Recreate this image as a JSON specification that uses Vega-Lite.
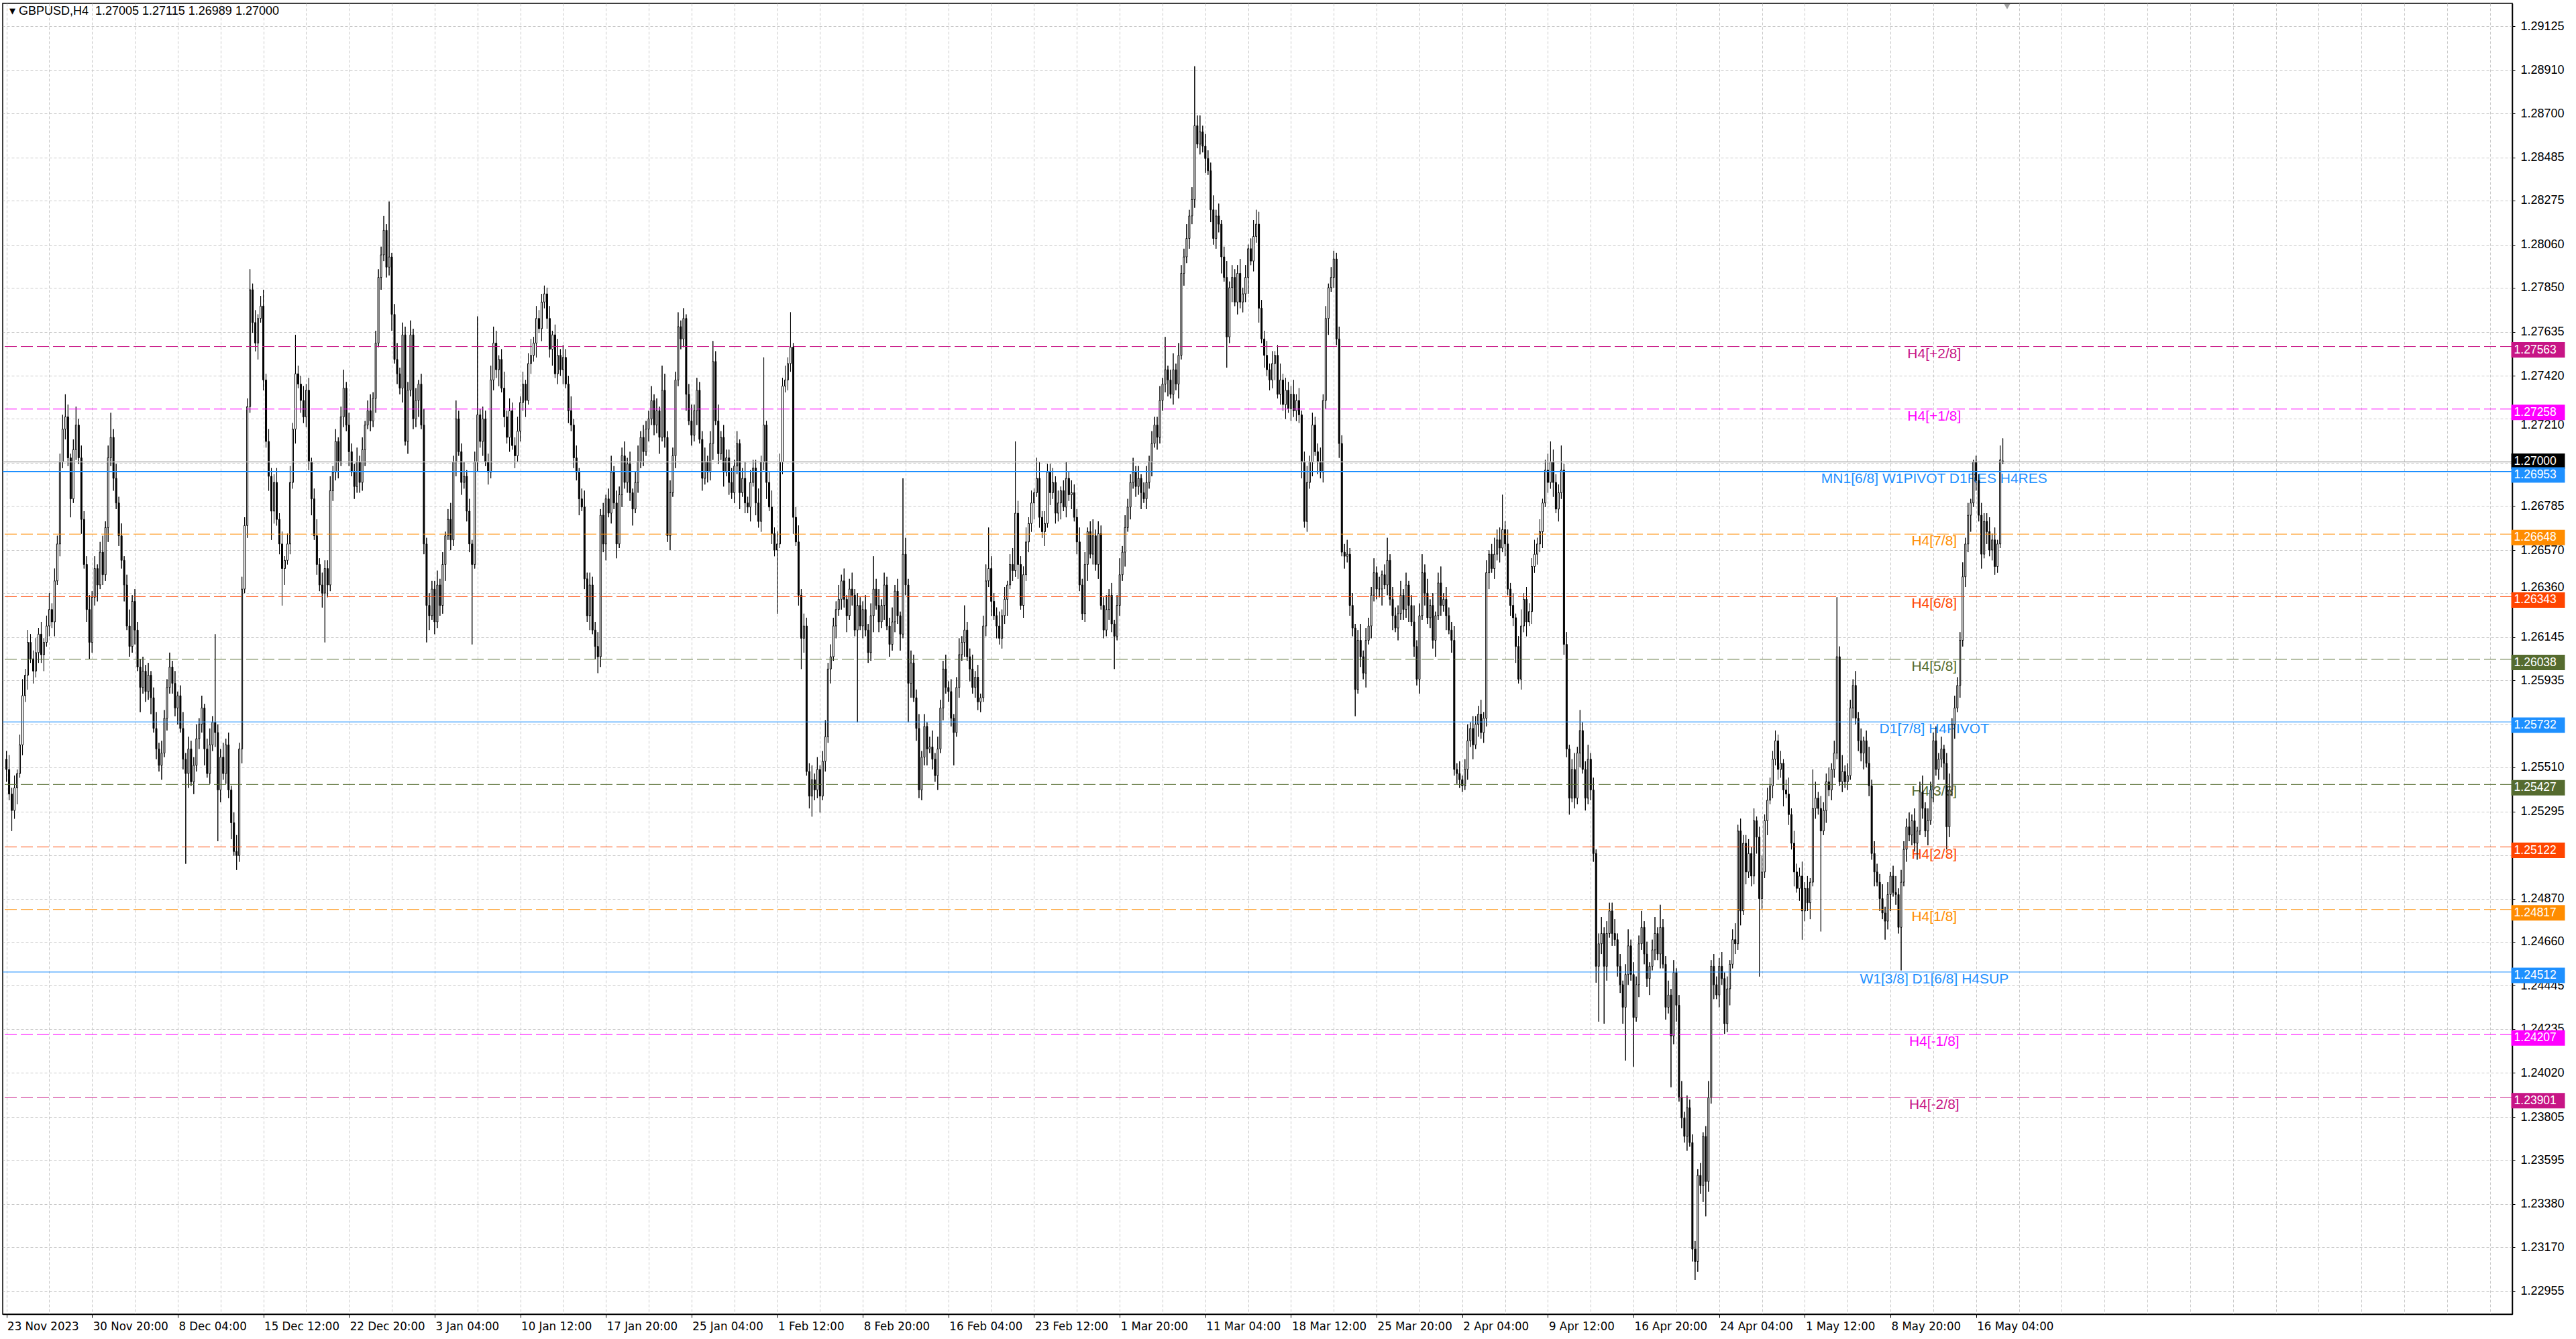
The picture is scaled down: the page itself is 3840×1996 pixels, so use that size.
{
"$schema":"https://vega.github.io/schema/vega-lite/v6.json",
"width":3741,"height":1954,
"autosize":{"type":"none"},
"padding":{"left":4,"top":5,"right":95,"bottom":37},
"background":"#FFFFFF",
"view":{"stroke":"#000000","strokeWidth":1.5},
"config":{"font":"Liberation Sans"},
"datasets":{
"caption":[{"caption":"▾ GBPUSD,H4\u00a0\u00a01.27005 1.27115 1.26989 1.27000"}],
"levels":[
{"v":1.27563,"label":"H4[+2/8]","kind":"pm2"},
{"v":1.27258,"label":"H4[+1/8]","kind":"pm1"},
{"v":1.27000,"label":"","kind":"bid"},
{"v":1.26953,"label":"MN1[6/8] W1PIVOT D1RES H4RES","kind":"blue"},
{"v":1.26648,"label":"H4[7/8]","kind":"o71"},
{"v":1.26343,"label":"H4[6/8]","kind":"o62"},
{"v":1.26038,"label":"H4[5/8]","kind":"g53"},
{"v":1.25732,"label":"D1[7/8] H4PIVOT","kind":"blue"},
{"v":1.25427,"label":"H4[3/8]","kind":"g53"},
{"v":1.25122,"label":"H4[2/8]","kind":"o62"},
{"v":1.24817,"label":"H4[1/8]","kind":"o71"},
{"v":1.24512,"label":"W1[3/8] D1[6/8] H4SUP","kind":"blue"},
{"v":1.24207,"label":"H4[-1/8]","kind":"pm1"},
{"v":1.23901,"label":"H4[-2/8]","kind":"pm2"}
],
"bars":[
{"i":0,"o":1.2555,"h":1.2559,"l":1.2544,"c":1.2550},
{"i":1,"o":1.2550,"h":1.2557,"l":1.2535,"c":1.2538},
{"i":2,"o":1.2538,"h":1.2541,"l":1.2520,"c":1.2530},
{"i":3,"o":1.2530,"h":1.2547,"l":1.2526,"c":1.2541},
{"i":4,"o":1.2541,"h":1.2550,"l":1.2533,"c":1.2548},
{"i":5,"o":1.2548,"h":1.2567,"l":1.2546,"c":1.2562},
{"i":6,"o":1.2562,"h":1.2594,"l":1.2557,"c":1.2586},
{"i":7,"o":1.2586,"h":1.2599,"l":1.2583,"c":1.2596},
{"i":8,"o":1.2596,"h":1.2618,"l":1.2589,"c":1.2612},
{"i":9,"o":1.2612,"h":1.2616,"l":1.2602,"c":1.2604},
{"i":10,"o":1.2604,"h":1.2608,"l":1.2592,"c":1.2598},
{"i":11,"o":1.2598,"h":1.2614,"l":1.2595,"c":1.2607},
{"i":12,"o":1.2607,"h":1.2619,"l":1.2602,"c":1.2616},
{"i":13,"o":1.2616,"h":1.2622,"l":1.2602,"c":1.2606},
{"i":14,"o":1.2606,"h":1.2614,"l":1.2598,"c":1.2612},
{"i":15,"o":1.2612,"h":1.2625,"l":1.2610,"c":1.2620},
{"i":16,"o":1.2620,"h":1.2636,"l":1.2615,"c":1.2628},
{"i":17,"o":1.2628,"h":1.2631,"l":1.2619,"c":1.2622},
{"i":18,"o":1.2622,"h":1.2648,"l":1.2615,"c":1.2642},
{"i":19,"o":1.2642,"h":1.2664,"l":1.2640,"c":1.2660},
{"i":20,"o":1.2660,"h":1.2704,"l":1.2654,"c":1.2700},
{"i":21,"o":1.2700,"h":1.2723,"l":1.2697,"c":1.2716},
{"i":22,"o":1.2716,"h":1.2733,"l":1.2711,"c":1.2722},
{"i":23,"o":1.2722,"h":1.2728,"l":1.2698,"c":1.2702},
{"i":24,"o":1.2702,"h":1.2704,"l":1.2673,"c":1.2682},
{"i":25,"o":1.2682,"h":1.2711,"l":1.2680,"c":1.2706},
{"i":26,"o":1.2706,"h":1.2727,"l":1.2701,"c":1.2718},
{"i":27,"o":1.2718,"h":1.2721,"l":1.2699,"c":1.2702},
{"i":28,"o":1.2702,"h":1.2708,"l":1.2665,"c":1.2672},
{"i":29,"o":1.2672,"h":1.2676,"l":1.2648,"c":1.2650},
{"i":30,"o":1.2650,"h":1.2654,"l":1.2622,"c":1.2628},
{"i":31,"o":1.2628,"h":1.2635,"l":1.2604,"c":1.2612},
{"i":32,"o":1.2612,"h":1.2637,"l":1.2607,"c":1.2634},
{"i":33,"o":1.2634,"h":1.2654,"l":1.2630,"c":1.2648},
{"i":34,"o":1.2648,"h":1.2650,"l":1.2632,"c":1.2640},
{"i":35,"o":1.2640,"h":1.2661,"l":1.2638,"c":1.2656},
{"i":36,"o":1.2656,"h":1.2664,"l":1.2640,"c":1.2645},
{"i":37,"o":1.2645,"h":1.2671,"l":1.2642,"c":1.2668},
{"i":38,"o":1.2668,"h":1.2708,"l":1.2661,"c":1.2702},
{"i":39,"o":1.2702,"h":1.2724,"l":1.2698,"c":1.2712},
{"i":40,"o":1.2712,"h":1.2716,"l":1.2686,"c":1.2692},
{"i":41,"o":1.2692,"h":1.2699,"l":1.2677,"c":1.2680},
{"i":42,"o":1.2680,"h":1.2683,"l":1.2659,"c":1.2664},
{"i":43,"o":1.2664,"h":1.2670,"l":1.2648,"c":1.2652},
{"i":44,"o":1.2652,"h":1.2654,"l":1.2632,"c":1.2640},
{"i":45,"o":1.2640,"h":1.2645,"l":1.2618,"c":1.2620},
{"i":46,"o":1.2620,"h":1.2628,"l":1.2605,"c":1.2610},
{"i":47,"o":1.2610,"h":1.2635,"l":1.2607,"c":1.2632},
{"i":48,"o":1.2632,"h":1.2638,"l":1.2611,"c":1.2618},
{"i":49,"o":1.2618,"h":1.2622,"l":1.2598,"c":1.2600},
{"i":50,"o":1.2600,"h":1.2604,"l":1.2578,"c":1.2590},
{"i":51,"o":1.2590,"h":1.2605,"l":1.2587,"c":1.2598},
{"i":52,"o":1.2598,"h":1.2601,"l":1.2583,"c":1.2588},
{"i":53,"o":1.2588,"h":1.2602,"l":1.2584,"c":1.2596},
{"i":54,"o":1.2596,"h":1.2598,"l":1.2577,"c":1.2585},
{"i":55,"o":1.2585,"h":1.2590,"l":1.2568,"c":1.2570},
{"i":56,"o":1.2570,"h":1.2578,"l":1.2555,"c":1.2560},
{"i":57,"o":1.2560,"h":1.2563,"l":1.2549,"c":1.2552},
{"i":58,"o":1.2552,"h":1.2564,"l":1.2545,"c":1.2558},
{"i":59,"o":1.2558,"h":1.2579,"l":1.2556,"c":1.2575},
{"i":60,"o":1.2575,"h":1.2594,"l":1.2569,"c":1.2590},
{"i":61,"o":1.2590,"h":1.2607,"l":1.2587,"c":1.2600},
{"i":62,"o":1.2600,"h":1.2603,"l":1.2587,"c":1.2592},
{"i":63,"o":1.2592,"h":1.2598,"l":1.2576,"c":1.2580},
{"i":64,"o":1.2580,"h":1.2588,"l":1.2572,"c":1.2586},
{"i":65,"o":1.2586,"h":1.2591,"l":1.2568,"c":1.2570},
{"i":66,"o":1.2570,"h":1.2578,"l":1.2550,"c":1.2555},
{"i":67,"o":1.2555,"h":1.2558,"l":1.2504,"c":1.2548},
{"i":68,"o":1.2548,"h":1.2566,"l":1.2541,"c":1.2560},
{"i":69,"o":1.2560,"h":1.2564,"l":1.2542,"c":1.2544},
{"i":70,"o":1.2544,"h":1.2556,"l":1.2538,"c":1.2552},
{"i":71,"o":1.2552,"h":1.2572,"l":1.2549,"c":1.2565},
{"i":72,"o":1.2565,"h":1.2575,"l":1.2560,"c":1.2572},
{"i":73,"o":1.2572,"h":1.2586,"l":1.2568,"c":1.2580},
{"i":74,"o":1.2580,"h":1.2582,"l":1.2552,"c":1.2560},
{"i":75,"o":1.2560,"h":1.2565,"l":1.2546,"c":1.2548},
{"i":76,"o":1.2548,"h":1.2570,"l":1.2543,"c":1.2562},
{"i":77,"o":1.2562,"h":1.2576,"l":1.2559,"c":1.2573},
{"i":78,"o":1.2573,"h":1.2616,"l":1.2561,"c":1.2568},
{"i":79,"o":1.2568,"h":1.2572,"l":1.2515,"c":1.2540},
{"i":80,"o":1.2540,"h":1.2560,"l":1.2534,"c":1.2556},
{"i":81,"o":1.2556,"h":1.2563,"l":1.2545,"c":1.2548},
{"i":82,"o":1.2548,"h":1.2565,"l":1.2543,"c":1.2562},
{"i":83,"o":1.2562,"h":1.2568,"l":1.2536,"c":1.2540},
{"i":84,"o":1.2540,"h":1.2542,"l":1.2516,"c":1.2524},
{"i":85,"o":1.2524,"h":1.2529,"l":1.2508,"c":1.2510},
{"i":86,"o":1.2510,"h":1.2518,"l":1.2501,"c":1.2508},
{"i":87,"o":1.2508,"h":1.2563,"l":1.2505,"c":1.2560},
{"i":88,"o":1.2560,"h":1.2644,"l":1.2553,"c":1.2638},
{"i":89,"o":1.2638,"h":1.2673,"l":1.2636,"c":1.2669},
{"i":90,"o":1.2669,"h":1.2731,"l":1.2663,"c":1.2727},
{"i":91,"o":1.2727,"h":1.2794,"l":1.2724,"c":1.2784},
{"i":92,"o":1.2784,"h":1.2787,"l":1.2763,"c":1.2768},
{"i":93,"o":1.2768,"h":1.2774,"l":1.2754,"c":1.2758},
{"i":94,"o":1.2758,"h":1.2772,"l":1.2750,"c":1.2770},
{"i":95,"o":1.2770,"h":1.2781,"l":1.2768,"c":1.2776},
{"i":96,"o":1.2776,"h":1.2784,"l":1.2735,"c":1.2740},
{"i":97,"o":1.2740,"h":1.2743,"l":1.2707,"c":1.2710},
{"i":98,"o":1.2710,"h":1.2716,"l":1.2686,"c":1.2693},
{"i":99,"o":1.2693,"h":1.2697,"l":1.2662,"c":1.2676},
{"i":100,"o":1.2676,"h":1.2694,"l":1.2670,"c":1.2690},
{"i":101,"o":1.2690,"h":1.2697,"l":1.2669,"c":1.2672},
{"i":102,"o":1.2672,"h":1.2675,"l":1.2655,"c":1.2660},
{"i":103,"o":1.2660,"h":1.2666,"l":1.2630,"c":1.2648},
{"i":104,"o":1.2648,"h":1.2654,"l":1.2640,"c":1.2652},
{"i":105,"o":1.2652,"h":1.2665,"l":1.2650,"c":1.2660},
{"i":106,"o":1.2660,"h":1.2698,"l":1.2655,"c":1.2690},
{"i":107,"o":1.2690,"h":1.2719,"l":1.2687,"c":1.2716},
{"i":108,"o":1.2716,"h":1.2762,"l":1.2709,"c":1.2743},
{"i":109,"o":1.2743,"h":1.2747,"l":1.2736,"c":1.2738},
{"i":110,"o":1.2738,"h":1.2742,"l":1.2724,"c":1.2730},
{"i":111,"o":1.2730,"h":1.2737,"l":1.2719,"c":1.2722},
{"i":112,"o":1.2722,"h":1.2738,"l":1.2717,"c":1.2735},
{"i":113,"o":1.2735,"h":1.2741,"l":1.2696,"c":1.2700},
{"i":114,"o":1.2700,"h":1.2702,"l":1.2674,"c":1.2682},
{"i":115,"o":1.2682,"h":1.2687,"l":1.2662,"c":1.2664},
{"i":116,"o":1.2664,"h":1.2672,"l":1.2645,"c":1.2650},
{"i":117,"o":1.2650,"h":1.2653,"l":1.2637,"c":1.2640},
{"i":118,"o":1.2640,"h":1.2646,"l":1.2629,"c":1.2636},
{"i":119,"o":1.2636,"h":1.2652,"l":1.2612,"c":1.2648},
{"i":120,"o":1.2648,"h":1.2652,"l":1.2634,"c":1.2640},
{"i":121,"o":1.2640,"h":1.2693,"l":1.2637,"c":1.2686},
{"i":122,"o":1.2686,"h":1.2698,"l":1.2681,"c":1.2695},
{"i":123,"o":1.2695,"h":1.2716,"l":1.2691,"c":1.2710},
{"i":124,"o":1.2710,"h":1.2712,"l":1.2692,"c":1.2700},
{"i":125,"o":1.2700,"h":1.2727,"l":1.2698,"c":1.2722},
{"i":126,"o":1.2722,"h":1.2745,"l":1.2717,"c":1.2736},
{"i":127,"o":1.2736,"h":1.2739,"l":1.2715,"c":1.2718},
{"i":128,"o":1.2718,"h":1.2724,"l":1.2698,"c":1.2705},
{"i":129,"o":1.2705,"h":1.2709,"l":1.2693,"c":1.2695},
{"i":130,"o":1.2695,"h":1.2699,"l":1.2682,"c":1.2688},
{"i":131,"o":1.2688,"h":1.2707,"l":1.2685,"c":1.2700},
{"i":132,"o":1.2700,"h":1.2703,"l":1.2685,"c":1.2690},
{"i":133,"o":1.2690,"h":1.2712,"l":1.2686,"c":1.2706},
{"i":134,"o":1.2706,"h":1.2720,"l":1.2698,"c":1.2718},
{"i":135,"o":1.2718,"h":1.2730,"l":1.2716,"c":1.2725},
{"i":136,"o":1.2725,"h":1.2733,"l":1.2715,"c":1.2720},
{"i":137,"o":1.2720,"h":1.2734,"l":1.2717,"c":1.2731},
{"i":138,"o":1.2731,"h":1.2764,"l":1.2724,"c":1.2758},
{"i":139,"o":1.2758,"h":1.2794,"l":1.2756,"c":1.2790},
{"i":140,"o":1.2790,"h":1.2805,"l":1.2784,"c":1.2801},
{"i":141,"o":1.2801,"h":1.2820,"l":1.2798,"c":1.2813},
{"i":142,"o":1.2813,"h":1.2816,"l":1.2790,"c":1.2795},
{"i":143,"o":1.2795,"h":1.2827,"l":1.2791,"c":1.2800},
{"i":144,"o":1.2800,"h":1.2802,"l":1.2764,"c":1.2772},
{"i":145,"o":1.2772,"h":1.2777,"l":1.2748,"c":1.2750},
{"i":146,"o":1.2750,"h":1.2758,"l":1.2738,"c":1.2743},
{"i":147,"o":1.2743,"h":1.2746,"l":1.2733,"c":1.2736},
{"i":148,"o":1.2736,"h":1.2768,"l":1.2729,"c":1.2762},
{"i":149,"o":1.2762,"h":1.2766,"l":1.2708,"c":1.2710},
{"i":150,"o":1.2710,"h":1.2739,"l":1.2704,"c":1.2735},
{"i":151,"o":1.2735,"h":1.2769,"l":1.2732,"c":1.2762},
{"i":152,"o":1.2762,"h":1.2765,"l":1.2716,"c":1.2721},
{"i":153,"o":1.2721,"h":1.2736,"l":1.2717,"c":1.2730},
{"i":154,"o":1.2730,"h":1.2740,"l":1.2722,"c":1.2738},
{"i":155,"o":1.2738,"h":1.2743,"l":1.2716,"c":1.2718},
{"i":156,"o":1.2718,"h":1.2726,"l":1.2655,"c":1.2660},
{"i":157,"o":1.2660,"h":1.2663,"l":1.2612,"c":1.2630},
{"i":158,"o":1.2630,"h":1.2636,"l":1.2618,"c":1.2625},
{"i":159,"o":1.2625,"h":1.2642,"l":1.2623,"c":1.2638},
{"i":160,"o":1.2638,"h":1.2642,"l":1.2616,"c":1.2622},
{"i":161,"o":1.2622,"h":1.2647,"l":1.2619,"c":1.2640},
{"i":162,"o":1.2640,"h":1.2643,"l":1.2625,"c":1.2630},
{"i":163,"o":1.2630,"h":1.2656,"l":1.2626,"c":1.2650},
{"i":164,"o":1.2650,"h":1.2666,"l":1.2642,"c":1.2664},
{"i":165,"o":1.2664,"h":1.2677,"l":1.2662,"c":1.2672},
{"i":166,"o":1.2672,"h":1.2680,"l":1.2657,"c":1.2662},
{"i":167,"o":1.2662,"h":1.2703,"l":1.2659,"c":1.2700},
{"i":168,"o":1.2700,"h":1.2730,"l":1.2693,"c":1.2721},
{"i":169,"o":1.2721,"h":1.2725,"l":1.2703,"c":1.2705},
{"i":170,"o":1.2705,"h":1.2709,"l":1.2684,"c":1.2690},
{"i":171,"o":1.2690,"h":1.2700,"l":1.2687,"c":1.2693},
{"i":172,"o":1.2693,"h":1.2696,"l":1.2671,"c":1.2676},
{"i":173,"o":1.2676,"h":1.2682,"l":1.2656,"c":1.2660},
{"i":174,"o":1.2660,"h":1.2662,"l":1.2611,"c":1.2650},
{"i":175,"o":1.2650,"h":1.2705,"l":1.2648,"c":1.2700},
{"i":176,"o":1.2700,"h":1.2771,"l":1.2695,"c":1.2723},
{"i":177,"o":1.2723,"h":1.2726,"l":1.2707,"c":1.2710},
{"i":178,"o":1.2710,"h":1.2727,"l":1.2703,"c":1.2721},
{"i":179,"o":1.2721,"h":1.2725,"l":1.2698,"c":1.2700},
{"i":180,"o":1.2700,"h":1.2704,"l":1.2689,"c":1.2695},
{"i":181,"o":1.2695,"h":1.2747,"l":1.2692,"c":1.2740},
{"i":182,"o":1.2740,"h":1.2766,"l":1.2735,"c":1.2758},
{"i":183,"o":1.2758,"h":1.2764,"l":1.2741,"c":1.2745},
{"i":184,"o":1.2745,"h":1.2752,"l":1.2737,"c":1.2750},
{"i":185,"o":1.2750,"h":1.2755,"l":1.2734,"c":1.2736},
{"i":186,"o":1.2736,"h":1.2744,"l":1.2717,"c":1.2722},
{"i":187,"o":1.2722,"h":1.2725,"l":1.2709,"c":1.2712},
{"i":188,"o":1.2712,"h":1.2731,"l":1.2705,"c":1.2725},
{"i":189,"o":1.2725,"h":1.2729,"l":1.2706,"c":1.2708},
{"i":190,"o":1.2708,"h":1.2712,"l":1.2697,"c":1.2703},
{"i":191,"o":1.2703,"h":1.2722,"l":1.2700,"c":1.2715},
{"i":192,"o":1.2715,"h":1.2732,"l":1.2710,"c":1.2729},
{"i":193,"o":1.2729,"h":1.2744,"l":1.2725,"c":1.2738},
{"i":194,"o":1.2738,"h":1.2740,"l":1.2722,"c":1.2730},
{"i":195,"o":1.2730,"h":1.2753,"l":1.2728,"c":1.2748},
{"i":196,"o":1.2748,"h":1.2760,"l":1.2743,"c":1.2752},
{"i":197,"o":1.2752,"h":1.2761,"l":1.2749,"c":1.2758},
{"i":198,"o":1.2758,"h":1.2776,"l":1.2751,"c":1.2770},
{"i":199,"o":1.2770,"h":1.2774,"l":1.2763,"c":1.2765},
{"i":200,"o":1.2765,"h":1.2782,"l":1.2759,"c":1.2778},
{"i":201,"o":1.2778,"h":1.2786,"l":1.2775,"c":1.2782},
{"i":202,"o":1.2782,"h":1.2785,"l":1.2765,"c":1.2770},
{"i":203,"o":1.2770,"h":1.2776,"l":1.2751,"c":1.2755},
{"i":204,"o":1.2755,"h":1.2764,"l":1.2747,"c":1.2762},
{"i":205,"o":1.2762,"h":1.2767,"l":1.2741,"c":1.2743},
{"i":206,"o":1.2743,"h":1.2760,"l":1.2738,"c":1.2752},
{"i":207,"o":1.2752,"h":1.2755,"l":1.2742,"c":1.2745},
{"i":208,"o":1.2745,"h":1.2757,"l":1.2738,"c":1.2751},
{"i":209,"o":1.2751,"h":1.2755,"l":1.2736,"c":1.2738},
{"i":210,"o":1.2738,"h":1.2742,"l":1.2719,"c":1.2725},
{"i":211,"o":1.2725,"h":1.2732,"l":1.2715,"c":1.2718},
{"i":212,"o":1.2718,"h":1.2721,"l":1.2697,"c":1.2702},
{"i":213,"o":1.2702,"h":1.2708,"l":1.2691,"c":1.2695},
{"i":214,"o":1.2695,"h":1.2697,"l":1.2674,"c":1.2682},
{"i":215,"o":1.2682,"h":1.2687,"l":1.2676,"c":1.2678},
{"i":216,"o":1.2678,"h":1.2686,"l":1.2638,"c":1.2643},
{"i":217,"o":1.2643,"h":1.2646,"l":1.2622,"c":1.2625},
{"i":218,"o":1.2625,"h":1.2646,"l":1.2618,"c":1.2640},
{"i":219,"o":1.2640,"h":1.2644,"l":1.2616,"c":1.2618},
{"i":220,"o":1.2618,"h":1.2622,"l":1.2604,"c":1.2610},
{"i":221,"o":1.2610,"h":1.2617,"l":1.2597,"c":1.2605},
{"i":222,"o":1.2605,"h":1.2677,"l":1.2600,"c":1.2674},
{"i":223,"o":1.2674,"h":1.2680,"l":1.2656,"c":1.2660},
{"i":224,"o":1.2660,"h":1.2684,"l":1.2652,"c":1.2682},
{"i":225,"o":1.2682,"h":1.2687,"l":1.2673,"c":1.2675},
{"i":226,"o":1.2675,"h":1.2703,"l":1.2670,"c":1.2695},
{"i":227,"o":1.2695,"h":1.2698,"l":1.2677,"c":1.2680},
{"i":228,"o":1.2680,"h":1.2686,"l":1.2653,"c":1.2660},
{"i":229,"o":1.2660,"h":1.2688,"l":1.2658,"c":1.2684},
{"i":230,"o":1.2684,"h":1.2707,"l":1.2678,"c":1.2703},
{"i":231,"o":1.2703,"h":1.2710,"l":1.2687,"c":1.2690},
{"i":232,"o":1.2690,"h":1.2702,"l":1.2685,"c":1.2699},
{"i":233,"o":1.2699,"h":1.2705,"l":1.2681,"c":1.2685},
{"i":234,"o":1.2685,"h":1.2687,"l":1.2669,"c":1.2677},
{"i":235,"o":1.2677,"h":1.2695,"l":1.2675,"c":1.2690},
{"i":236,"o":1.2690,"h":1.2708,"l":1.2685,"c":1.2700},
{"i":237,"o":1.2700,"h":1.2715,"l":1.2697,"c":1.2712},
{"i":238,"o":1.2712,"h":1.2718,"l":1.2698,"c":1.2705},
{"i":239,"o":1.2705,"h":1.2720,"l":1.2703,"c":1.2716},
{"i":240,"o":1.2716,"h":1.2725,"l":1.2710,"c":1.2721},
{"i":241,"o":1.2721,"h":1.2737,"l":1.2718,"c":1.2730},
{"i":242,"o":1.2730,"h":1.2733,"l":1.2713,"c":1.2718},
{"i":243,"o":1.2718,"h":1.2731,"l":1.2714,"c":1.2725},
{"i":244,"o":1.2725,"h":1.2727,"l":1.2704,"c":1.2712},
{"i":245,"o":1.2712,"h":1.2747,"l":1.2710,"c":1.2735},
{"i":246,"o":1.2735,"h":1.2743,"l":1.2707,"c":1.2712},
{"i":247,"o":1.2712,"h":1.2715,"l":1.2661,"c":1.2664},
{"i":248,"o":1.2664,"h":1.2691,"l":1.2657,"c":1.2685},
{"i":249,"o":1.2685,"h":1.2707,"l":1.2683,"c":1.2703},
{"i":250,"o":1.2703,"h":1.2744,"l":1.2697,"c":1.2740},
{"i":251,"o":1.2740,"h":1.2773,"l":1.2737,"c":1.2766},
{"i":252,"o":1.2766,"h":1.2769,"l":1.2755,"c":1.2760},
{"i":253,"o":1.2760,"h":1.2775,"l":1.2756,"c":1.2770},
{"i":254,"o":1.2770,"h":1.2772,"l":1.2725,"c":1.2733},
{"i":255,"o":1.2733,"h":1.2738,"l":1.2718,"c":1.2720},
{"i":256,"o":1.2720,"h":1.2728,"l":1.2708,"c":1.2713},
{"i":257,"o":1.2713,"h":1.2728,"l":1.2710,"c":1.2725},
{"i":258,"o":1.2725,"h":1.2741,"l":1.2718,"c":1.2735},
{"i":259,"o":1.2735,"h":1.2739,"l":1.2709,"c":1.2711},
{"i":260,"o":1.2711,"h":1.2715,"l":1.2686,"c":1.2692},
{"i":261,"o":1.2692,"h":1.2707,"l":1.2689,"c":1.2700},
{"i":262,"o":1.2700,"h":1.2703,"l":1.2690,"c":1.2695},
{"i":263,"o":1.2695,"h":1.2715,"l":1.2691,"c":1.2709},
{"i":264,"o":1.2709,"h":1.2759,"l":1.2701,"c":1.2749},
{"i":265,"o":1.2749,"h":1.2754,"l":1.2718,"c":1.2720},
{"i":266,"o":1.2720,"h":1.2728,"l":1.2699,"c":1.2704},
{"i":267,"o":1.2704,"h":1.2715,"l":1.2701,"c":1.2712},
{"i":268,"o":1.2712,"h":1.2718,"l":1.2688,"c":1.2695},
{"i":269,"o":1.2695,"h":1.2706,"l":1.2693,"c":1.2702},
{"i":270,"o":1.2702,"h":1.2706,"l":1.2684,"c":1.2690},
{"i":271,"o":1.2690,"h":1.2697,"l":1.2682,"c":1.2685},
{"i":272,"o":1.2685,"h":1.2701,"l":1.2680,"c":1.2698},
{"i":273,"o":1.2698,"h":1.2715,"l":1.2694,"c":1.2709},
{"i":274,"o":1.2709,"h":1.2711,"l":1.2677,"c":1.2685},
{"i":275,"o":1.2685,"h":1.2697,"l":1.2683,"c":1.2692},
{"i":276,"o":1.2692,"h":1.2700,"l":1.2675,"c":1.2680},
{"i":277,"o":1.2680,"h":1.2683,"l":1.2675,"c":1.2678},
{"i":278,"o":1.2678,"h":1.2696,"l":1.2671,"c":1.2690},
{"i":279,"o":1.2690,"h":1.2701,"l":1.2688,"c":1.2697},
{"i":280,"o":1.2697,"h":1.2701,"l":1.2674,"c":1.2680},
{"i":281,"o":1.2680,"h":1.2687,"l":1.2668,"c":1.2671},
{"i":282,"o":1.2671,"h":1.2703,"l":1.2666,"c":1.2700},
{"i":283,"o":1.2700,"h":1.2751,"l":1.2696,"c":1.2718},
{"i":284,"o":1.2718,"h":1.2720,"l":1.2682,"c":1.2690},
{"i":285,"o":1.2690,"h":1.2695,"l":1.2676,"c":1.2678},
{"i":286,"o":1.2678,"h":1.2686,"l":1.2660,"c":1.2665},
{"i":287,"o":1.2665,"h":1.2668,"l":1.2654,"c":1.2657},
{"i":288,"o":1.2657,"h":1.2666,"l":1.2626,"c":1.2660},
{"i":289,"o":1.2660,"h":1.2704,"l":1.2658,"c":1.2700},
{"i":290,"o":1.2700,"h":1.2741,"l":1.2694,"c":1.2737},
{"i":291,"o":1.2737,"h":1.2747,"l":1.2734,"c":1.2740},
{"i":292,"o":1.2740,"h":1.2751,"l":1.2735,"c":1.2748},
{"i":293,"o":1.2748,"h":1.2773,"l":1.2744,"c":1.2756},
{"i":294,"o":1.2756,"h":1.2758,"l":1.2665,"c":1.2673},
{"i":295,"o":1.2673,"h":1.2678,"l":1.2659,"c":1.2661},
{"i":296,"o":1.2661,"h":1.2669,"l":1.2630,"c":1.2635},
{"i":297,"o":1.2635,"h":1.2638,"l":1.2599,"c":1.2614},
{"i":298,"o":1.2614,"h":1.2626,"l":1.2607,"c":1.2620},
{"i":299,"o":1.2620,"h":1.2624,"l":1.2547,"c":1.2549},
{"i":300,"o":1.2549,"h":1.2553,"l":1.2531,"c":1.2537},
{"i":301,"o":1.2537,"h":1.2552,"l":1.2527,"c":1.2545},
{"i":302,"o":1.2545,"h":1.2548,"l":1.2535,"c":1.2540},
{"i":303,"o":1.2540,"h":1.2556,"l":1.2536,"c":1.2550},
{"i":304,"o":1.2550,"h":1.2552,"l":1.2529,"c":1.2537},
{"i":305,"o":1.2537,"h":1.2559,"l":1.2535,"c":1.2554},
{"i":306,"o":1.2554,"h":1.2574,"l":1.2549,"c":1.2566},
{"i":307,"o":1.2566,"h":1.2602,"l":1.2563,"c":1.2599},
{"i":308,"o":1.2599,"h":1.2611,"l":1.2592,"c":1.2605},
{"i":309,"o":1.2605,"h":1.2624,"l":1.2603,"c":1.2620},
{"i":310,"o":1.2620,"h":1.2632,"l":1.2614,"c":1.2628},
{"i":311,"o":1.2628,"h":1.2640,"l":1.2625,"c":1.2633},
{"i":312,"o":1.2633,"h":1.2645,"l":1.2628,"c":1.2642},
{"i":313,"o":1.2642,"h":1.2648,"l":1.2629,"c":1.2633},
{"i":314,"o":1.2633,"h":1.2635,"l":1.2617,"c":1.2625},
{"i":315,"o":1.2625,"h":1.2643,"l":1.2623,"c":1.2638},
{"i":316,"o":1.2638,"h":1.2646,"l":1.2630,"c":1.2635},
{"i":317,"o":1.2635,"h":1.2638,"l":1.2615,"c":1.2618},
{"i":318,"o":1.2618,"h":1.2636,"l":1.2573,"c":1.2630},
{"i":319,"o":1.2630,"h":1.2634,"l":1.2618,"c":1.2620},
{"i":320,"o":1.2620,"h":1.2632,"l":1.2614,"c":1.2628},
{"i":321,"o":1.2628,"h":1.2635,"l":1.2615,"c":1.2618},
{"i":322,"o":1.2618,"h":1.2621,"l":1.2602,"c":1.2607},
{"i":323,"o":1.2607,"h":1.2631,"l":1.2603,"c":1.2625},
{"i":324,"o":1.2625,"h":1.2654,"l":1.2617,"c":1.2638},
{"i":325,"o":1.2638,"h":1.2643,"l":1.2628,"c":1.2630},
{"i":326,"o":1.2630,"h":1.2638,"l":1.2617,"c":1.2622},
{"i":327,"o":1.2622,"h":1.2633,"l":1.2619,"c":1.2630},
{"i":328,"o":1.2630,"h":1.2646,"l":1.2623,"c":1.2640},
{"i":329,"o":1.2640,"h":1.2644,"l":1.2618,"c":1.2620},
{"i":330,"o":1.2620,"h":1.2624,"l":1.2605,"c":1.2611},
{"i":331,"o":1.2611,"h":1.2629,"l":1.2608,"c":1.2622},
{"i":332,"o":1.2622,"h":1.2640,"l":1.2617,"c":1.2637},
{"i":333,"o":1.2637,"h":1.2643,"l":1.2621,"c":1.2625},
{"i":334,"o":1.2625,"h":1.2627,"l":1.2608,"c":1.2616},
{"i":335,"o":1.2616,"h":1.2692,"l":1.2614,"c":1.2655},
{"i":336,"o":1.2655,"h":1.2663,"l":1.2635,"c":1.2640},
{"i":337,"o":1.2640,"h":1.2643,"l":1.2573,"c":1.2592},
{"i":338,"o":1.2592,"h":1.2608,"l":1.2585,"c":1.2602},
{"i":339,"o":1.2602,"h":1.2606,"l":1.2583,"c":1.2585},
{"i":340,"o":1.2585,"h":1.2589,"l":1.2564,"c":1.2570},
{"i":341,"o":1.2570,"h":1.2577,"l":1.2536,"c":1.2540},
{"i":342,"o":1.2540,"h":1.2559,"l":1.2535,"c":1.2556},
{"i":343,"o":1.2556,"h":1.2577,"l":1.2552,"c":1.2571},
{"i":344,"o":1.2571,"h":1.2573,"l":1.2552,"c":1.2560},
{"i":345,"o":1.2560,"h":1.2566,"l":1.2558,"c":1.2561},
{"i":346,"o":1.2561,"h":1.2569,"l":1.2550,"c":1.2555},
{"i":347,"o":1.2555,"h":1.2558,"l":1.2544,"c":1.2547},
{"i":348,"o":1.2547,"h":1.2566,"l":1.2540,"c":1.2560},
{"i":349,"o":1.2560,"h":1.2584,"l":1.2558,"c":1.2580},
{"i":350,"o":1.2580,"h":1.2603,"l":1.2574,"c":1.2599},
{"i":351,"o":1.2599,"h":1.2606,"l":1.2587,"c":1.2590},
{"i":352,"o":1.2590,"h":1.2593,"l":1.2583,"c":1.2588},
{"i":353,"o":1.2588,"h":1.2594,"l":1.2571,"c":1.2575},
{"i":354,"o":1.2575,"h":1.2577,"l":1.2552,"c":1.2568},
{"i":355,"o":1.2568,"h":1.2595,"l":1.2566,"c":1.2590},
{"i":356,"o":1.2590,"h":1.2614,"l":1.2585,"c":1.2606},
{"i":357,"o":1.2606,"h":1.2615,"l":1.2603,"c":1.2612},
{"i":358,"o":1.2612,"h":1.2630,"l":1.2605,"c":1.2618},
{"i":359,"o":1.2618,"h":1.2622,"l":1.2603,"c":1.2605},
{"i":360,"o":1.2605,"h":1.2609,"l":1.2593,"c":1.2599},
{"i":361,"o":1.2599,"h":1.2606,"l":1.2587,"c":1.2590},
{"i":362,"o":1.2590,"h":1.2598,"l":1.2585,"c":1.2595},
{"i":363,"o":1.2595,"h":1.2601,"l":1.2579,"c":1.2583},
{"i":364,"o":1.2583,"h":1.2587,"l":1.2578,"c":1.2585},
{"i":365,"o":1.2585,"h":1.2625,"l":1.2583,"c":1.2620},
{"i":366,"o":1.2620,"h":1.2650,"l":1.2615,"c":1.2642},
{"i":367,"o":1.2642,"h":1.2668,"l":1.2639,"c":1.2648},
{"i":368,"o":1.2648,"h":1.2654,"l":1.2625,"c":1.2632},
{"i":369,"o":1.2632,"h":1.2636,"l":1.2623,"c":1.2625},
{"i":370,"o":1.2625,"h":1.2629,"l":1.2614,"c":1.2620},
{"i":371,"o":1.2620,"h":1.2627,"l":1.2611,"c":1.2614},
{"i":372,"o":1.2614,"h":1.2628,"l":1.2609,"c":1.2625},
{"i":373,"o":1.2625,"h":1.2639,"l":1.2621,"c":1.2633},
{"i":374,"o":1.2633,"h":1.2642,"l":1.2625,"c":1.2640},
{"i":375,"o":1.2640,"h":1.2655,"l":1.2638,"c":1.2650},
{"i":376,"o":1.2650,"h":1.2658,"l":1.2642,"c":1.2647},
{"i":377,"o":1.2647,"h":1.2710,"l":1.2644,"c":1.2675},
{"i":378,"o":1.2675,"h":1.2681,"l":1.2643,"c":1.2650},
{"i":379,"o":1.2650,"h":1.2654,"l":1.2628,"c":1.2630},
{"i":380,"o":1.2630,"h":1.2649,"l":1.2624,"c":1.2645},
{"i":381,"o":1.2645,"h":1.2668,"l":1.2642,"c":1.2661},
{"i":382,"o":1.2661,"h":1.2673,"l":1.2656,"c":1.2670},
{"i":383,"o":1.2670,"h":1.2686,"l":1.2666,"c":1.2680},
{"i":384,"o":1.2680,"h":1.2687,"l":1.2672,"c":1.2685},
{"i":385,"o":1.2685,"h":1.2702,"l":1.2683,"c":1.2692},
{"i":386,"o":1.2692,"h":1.2700,"l":1.2668,"c":1.2673},
{"i":387,"o":1.2673,"h":1.2676,"l":1.2663,"c":1.2666},
{"i":388,"o":1.2666,"h":1.2676,"l":1.2659,"c":1.2670},
{"i":389,"o":1.2670,"h":1.2699,"l":1.2668,"c":1.2695},
{"i":390,"o":1.2695,"h":1.2699,"l":1.2679,"c":1.2685},
{"i":391,"o":1.2685,"h":1.2697,"l":1.2682,"c":1.2690},
{"i":392,"o":1.2690,"h":1.2693,"l":1.2670,"c":1.2675},
{"i":393,"o":1.2675,"h":1.2686,"l":1.2671,"c":1.2680},
{"i":394,"o":1.2680,"h":1.2688,"l":1.2672,"c":1.2686},
{"i":395,"o":1.2686,"h":1.2691,"l":1.2676,"c":1.2678},
{"i":396,"o":1.2678,"h":1.2700,"l":1.2673,"c":1.2692},
{"i":397,"o":1.2692,"h":1.2695,"l":1.2681,"c":1.2684},
{"i":398,"o":1.2684,"h":1.2691,"l":1.2677,"c":1.2685},
{"i":399,"o":1.2685,"h":1.2689,"l":1.2671,"c":1.2673},
{"i":400,"o":1.2673,"h":1.2677,"l":1.2655,"c":1.2661},
{"i":401,"o":1.2661,"h":1.2668,"l":1.2637,"c":1.2640},
{"i":402,"o":1.2640,"h":1.2643,"l":1.2623,"c":1.2626},
{"i":403,"o":1.2626,"h":1.2656,"l":1.2622,"c":1.2650},
{"i":404,"o":1.2650,"h":1.2668,"l":1.2642,"c":1.2666},
{"i":405,"o":1.2666,"h":1.2671,"l":1.2653,"c":1.2655},
{"i":406,"o":1.2655,"h":1.2672,"l":1.2650,"c":1.2664},
{"i":407,"o":1.2664,"h":1.2667,"l":1.2647,"c":1.2650},
{"i":408,"o":1.2650,"h":1.2671,"l":1.2643,"c":1.2665},
{"i":409,"o":1.2665,"h":1.2669,"l":1.2628,"c":1.2630},
{"i":410,"o":1.2630,"h":1.2634,"l":1.2614,"c":1.2618},
{"i":411,"o":1.2618,"h":1.2635,"l":1.2615,"c":1.2628},
{"i":412,"o":1.2628,"h":1.2638,"l":1.2623,"c":1.2635},
{"i":413,"o":1.2635,"h":1.2641,"l":1.2617,"c":1.2621},
{"i":414,"o":1.2621,"h":1.2623,"l":1.2599,"c":1.2615},
{"i":415,"o":1.2615,"h":1.2635,"l":1.2613,"c":1.2630},
{"i":416,"o":1.2630,"h":1.2653,"l":1.2625,"c":1.2645},
{"i":417,"o":1.2645,"h":1.2659,"l":1.2642,"c":1.2656},
{"i":418,"o":1.2656,"h":1.2674,"l":1.2649,"c":1.2668},
{"i":419,"o":1.2668,"h":1.2682,"l":1.2666,"c":1.2678},
{"i":420,"o":1.2678,"h":1.2694,"l":1.2672,"c":1.2690},
{"i":421,"o":1.2690,"h":1.2702,"l":1.2687,"c":1.2695},
{"i":422,"o":1.2695,"h":1.2698,"l":1.2683,"c":1.2688},
{"i":423,"o":1.2688,"h":1.2698,"l":1.2684,"c":1.2692},
{"i":424,"o":1.2692,"h":1.2694,"l":1.2677,"c":1.2685},
{"i":425,"o":1.2685,"h":1.2690,"l":1.2680,"c":1.2682},
{"i":426,"o":1.2682,"h":1.2698,"l":1.2677,"c":1.2690},
{"i":427,"o":1.2690,"h":1.2703,"l":1.2687,"c":1.2700},
{"i":428,"o":1.2700,"h":1.2715,"l":1.2693,"c":1.2709},
{"i":429,"o":1.2709,"h":1.2722,"l":1.2707,"c":1.2718},
{"i":430,"o":1.2718,"h":1.2722,"l":1.2706,"c":1.2712},
{"i":431,"o":1.2712,"h":1.2737,"l":1.2709,"c":1.2730},
{"i":432,"o":1.2730,"h":1.2741,"l":1.2725,"c":1.2738},
{"i":433,"o":1.2738,"h":1.2761,"l":1.2734,"c":1.2745},
{"i":434,"o":1.2745,"h":1.2747,"l":1.2732,"c":1.2740},
{"i":435,"o":1.2740,"h":1.2745,"l":1.2731,"c":1.2733},
{"i":436,"o":1.2733,"h":1.2753,"l":1.2728,"c":1.2745},
{"i":437,"o":1.2745,"h":1.2748,"l":1.2735,"c":1.2738},
{"i":438,"o":1.2738,"h":1.2758,"l":1.2731,"c":1.2752},
{"i":439,"o":1.2752,"h":1.2796,"l":1.2750,"c":1.2792},
{"i":440,"o":1.2792,"h":1.2804,"l":1.2786,"c":1.2800},
{"i":441,"o":1.2800,"h":1.2816,"l":1.2797,"c":1.2809},
{"i":442,"o":1.2809,"h":1.2823,"l":1.2804,"c":1.2820},
{"i":443,"o":1.2820,"h":1.2834,"l":1.2816,"c":1.2828},
{"i":444,"o":1.2828,"h":1.2893,"l":1.2824,"c":1.2864},
{"i":445,"o":1.2864,"h":1.2869,"l":1.2853,"c":1.2855},
{"i":446,"o":1.2855,"h":1.2869,"l":1.2850,"c":1.2861},
{"i":447,"o":1.2861,"h":1.2864,"l":1.2851,"c":1.2854},
{"i":448,"o":1.2854,"h":1.2860,"l":1.2841,"c":1.2848},
{"i":449,"o":1.2848,"h":1.2852,"l":1.2840,"c":1.2842},
{"i":450,"o":1.2842,"h":1.2846,"l":1.2817,"c":1.2823},
{"i":451,"o":1.2823,"h":1.2830,"l":1.2806,"c":1.2809},
{"i":452,"o":1.2809,"h":1.2823,"l":1.2804,"c":1.2820},
{"i":453,"o":1.2820,"h":1.2826,"l":1.2812,"c":1.2816},
{"i":454,"o":1.2816,"h":1.2818,"l":1.2792,"c":1.2800},
{"i":455,"o":1.2800,"h":1.2805,"l":1.2788,"c":1.2790},
{"i":456,"o":1.2790,"h":1.2798,"l":1.2746,"c":1.2761},
{"i":457,"o":1.2761,"h":1.2788,"l":1.2758,"c":1.2785},
{"i":458,"o":1.2785,"h":1.2796,"l":1.2778,"c":1.2790},
{"i":459,"o":1.2790,"h":1.2794,"l":1.2776,"c":1.2778},
{"i":460,"o":1.2778,"h":1.2796,"l":1.2772,"c":1.2792},
{"i":461,"o":1.2792,"h":1.2799,"l":1.2775,"c":1.2778},
{"i":462,"o":1.2778,"h":1.2785,"l":1.2773,"c":1.2782},
{"i":463,"o":1.2782,"h":1.2796,"l":1.2778,"c":1.2790},
{"i":464,"o":1.2790,"h":1.2806,"l":1.2782,"c":1.2804},
{"i":465,"o":1.2804,"h":1.2809,"l":1.2796,"c":1.2798},
{"i":466,"o":1.2798,"h":1.2818,"l":1.2793,"c":1.2810},
{"i":467,"o":1.2810,"h":1.2823,"l":1.2807,"c":1.2816},
{"i":468,"o":1.2816,"h":1.2822,"l":1.2768,"c":1.2775},
{"i":469,"o":1.2775,"h":1.2779,"l":1.2758,"c":1.2760},
{"i":470,"o":1.2760,"h":1.2764,"l":1.2746,"c":1.2752},
{"i":471,"o":1.2752,"h":1.2759,"l":1.2742,"c":1.2745},
{"i":472,"o":1.2745,"h":1.2748,"l":1.2735,"c":1.2740},
{"i":473,"o":1.2740,"h":1.2754,"l":1.2736,"c":1.2748},
{"i":474,"o":1.2748,"h":1.2754,"l":1.2740,"c":1.2752},
{"i":475,"o":1.2752,"h":1.2757,"l":1.2731,"c":1.2733},
{"i":476,"o":1.2733,"h":1.2748,"l":1.2728,"c":1.2740},
{"i":477,"o":1.2740,"h":1.2743,"l":1.2725,"c":1.2728},
{"i":478,"o":1.2728,"h":1.2741,"l":1.2721,"c":1.2735},
{"i":479,"o":1.2735,"h":1.2739,"l":1.2724,"c":1.2726},
{"i":480,"o":1.2726,"h":1.2737,"l":1.2720,"c":1.2733},
{"i":481,"o":1.2733,"h":1.2740,"l":1.2722,"c":1.2725},
{"i":482,"o":1.2725,"h":1.2733,"l":1.2720,"c":1.2730},
{"i":483,"o":1.2730,"h":1.2736,"l":1.2719,"c":1.2723},
{"i":484,"o":1.2723,"h":1.2725,"l":1.2692,"c":1.2700},
{"i":485,"o":1.2700,"h":1.2705,"l":1.2668,"c":1.2671},
{"i":486,"o":1.2671,"h":1.2698,"l":1.2666,"c":1.2690},
{"i":487,"o":1.2690,"h":1.2703,"l":1.2687,"c":1.2700},
{"i":488,"o":1.2700,"h":1.2724,"l":1.2693,"c":1.2718},
{"i":489,"o":1.2718,"h":1.2722,"l":1.2703,"c":1.2705},
{"i":490,"o":1.2705,"h":1.2709,"l":1.2694,"c":1.2700},
{"i":491,"o":1.2700,"h":1.2707,"l":1.2692,"c":1.2695},
{"i":492,"o":1.2695,"h":1.2733,"l":1.2690,"c":1.2730},
{"i":493,"o":1.2730,"h":1.2776,"l":1.2726,"c":1.2770},
{"i":494,"o":1.2770,"h":1.2787,"l":1.2762,"c":1.2785},
{"i":495,"o":1.2785,"h":1.2795,"l":1.2783,"c":1.2790},
{"i":496,"o":1.2790,"h":1.2803,"l":1.2785,"c":1.2799},
{"i":497,"o":1.2799,"h":1.2802,"l":1.2757,"c":1.2760},
{"i":498,"o":1.2760,"h":1.2766,"l":1.2702,"c":1.2709},
{"i":499,"o":1.2709,"h":1.2713,"l":1.2654,"c":1.2656},
{"i":500,"o":1.2656,"h":1.2660,"l":1.2648,"c":1.2654},
{"i":501,"o":1.2654,"h":1.2662,"l":1.2651,"c":1.2655},
{"i":502,"o":1.2655,"h":1.2658,"l":1.2625,"c":1.2630},
{"i":503,"o":1.2630,"h":1.2636,"l":1.2615,"c":1.2619},
{"i":504,"o":1.2619,"h":1.2621,"l":1.2576,"c":1.2589},
{"i":505,"o":1.2589,"h":1.2618,"l":1.2587,"c":1.2613},
{"i":506,"o":1.2613,"h":1.2621,"l":1.2600,"c":1.2605},
{"i":507,"o":1.2605,"h":1.2608,"l":1.2594,"c":1.2597},
{"i":508,"o":1.2597,"h":1.2619,"l":1.2590,"c":1.2613},
{"i":509,"o":1.2613,"h":1.2624,"l":1.2611,"c":1.2620},
{"i":510,"o":1.2620,"h":1.2639,"l":1.2614,"c":1.2635},
{"i":511,"o":1.2635,"h":1.2653,"l":1.2632,"c":1.2646},
{"i":512,"o":1.2646,"h":1.2649,"l":1.2633,"c":1.2638},
{"i":513,"o":1.2638,"h":1.2644,"l":1.2634,"c":1.2638},
{"i":514,"o":1.2638,"h":1.2647,"l":1.2630,"c":1.2645},
{"i":515,"o":1.2645,"h":1.2650,"l":1.2638,"c":1.2640},
{"i":516,"o":1.2640,"h":1.2663,"l":1.2635,"c":1.2652},
{"i":517,"o":1.2652,"h":1.2655,"l":1.2630,"c":1.2633},
{"i":518,"o":1.2633,"h":1.2639,"l":1.2618,"c":1.2625},
{"i":519,"o":1.2625,"h":1.2629,"l":1.2617,"c":1.2619},
{"i":520,"o":1.2619,"h":1.2630,"l":1.2613,"c":1.2626},
{"i":521,"o":1.2626,"h":1.2642,"l":1.2623,"c":1.2635},
{"i":522,"o":1.2635,"h":1.2638,"l":1.2623,"c":1.2628},
{"i":523,"o":1.2628,"h":1.2646,"l":1.2624,"c":1.2640},
{"i":524,"o":1.2640,"h":1.2642,"l":1.2622,"c":1.2630},
{"i":525,"o":1.2630,"h":1.2635,"l":1.2620,"c":1.2622},
{"i":526,"o":1.2622,"h":1.2630,"l":1.2605,"c":1.2610},
{"i":527,"o":1.2610,"h":1.2613,"l":1.2591,"c":1.2594},
{"i":528,"o":1.2594,"h":1.2631,"l":1.2587,"c":1.2625},
{"i":529,"o":1.2625,"h":1.2655,"l":1.2623,"c":1.2646},
{"i":530,"o":1.2646,"h":1.2650,"l":1.2630,"c":1.2636},
{"i":531,"o":1.2636,"h":1.2643,"l":1.2621,"c":1.2624},
{"i":532,"o":1.2624,"h":1.2633,"l":1.2619,"c":1.2630},
{"i":533,"o":1.2630,"h":1.2636,"l":1.2609,"c":1.2613},
{"i":534,"o":1.2613,"h":1.2627,"l":1.2605,"c":1.2625},
{"i":535,"o":1.2625,"h":1.2646,"l":1.2623,"c":1.2641},
{"i":536,"o":1.2641,"h":1.2649,"l":1.2625,"c":1.2630},
{"i":537,"o":1.2630,"h":1.2636,"l":1.2627,"c":1.2633},
{"i":538,"o":1.2633,"h":1.2639,"l":1.2618,"c":1.2625},
{"i":539,"o":1.2625,"h":1.2629,"l":1.2616,"c":1.2618},
{"i":540,"o":1.2618,"h":1.2622,"l":1.2607,"c":1.2613},
{"i":541,"o":1.2613,"h":1.2620,"l":1.2547,"c":1.2550},
{"i":542,"o":1.2550,"h":1.2553,"l":1.2543,"c":1.2548},
{"i":543,"o":1.2548,"h":1.2554,"l":1.2541,"c":1.2545},
{"i":544,"o":1.2545,"h":1.2547,"l":1.2539,"c":1.2542},
{"i":545,"o":1.2542,"h":1.2555,"l":1.2540,"c":1.2550},
{"i":546,"o":1.2550,"h":1.2572,"l":1.2545,"c":1.2564},
{"i":547,"o":1.2564,"h":1.2573,"l":1.2561,"c":1.2570},
{"i":548,"o":1.2570,"h":1.2576,"l":1.2555,"c":1.2562},
{"i":549,"o":1.2562,"h":1.2576,"l":1.2560,"c":1.2572},
{"i":550,"o":1.2572,"h":1.2581,"l":1.2566,"c":1.2577},
{"i":551,"o":1.2577,"h":1.2584,"l":1.2565,"c":1.2568},
{"i":552,"o":1.2568,"h":1.2578,"l":1.2563,"c":1.2575},
{"i":553,"o":1.2575,"h":1.2652,"l":1.2571,"c":1.2646},
{"i":554,"o":1.2646,"h":1.2657,"l":1.2638,"c":1.2655},
{"i":555,"o":1.2655,"h":1.2660,"l":1.2646,"c":1.2648},
{"i":556,"o":1.2648,"h":1.2663,"l":1.2643,"c":1.2655},
{"i":557,"o":1.2655,"h":1.2667,"l":1.2652,"c":1.2662},
{"i":558,"o":1.2662,"h":1.2668,"l":1.2651,"c":1.2658},
{"i":559,"o":1.2658,"h":1.2684,"l":1.2656,"c":1.2667},
{"i":560,"o":1.2667,"h":1.2671,"l":1.2654,"c":1.2660},
{"i":561,"o":1.2660,"h":1.2667,"l":1.2635,"c":1.2638},
{"i":562,"o":1.2638,"h":1.2641,"l":1.2625,"c":1.2630},
{"i":563,"o":1.2630,"h":1.2636,"l":1.2620,"c":1.2624},
{"i":564,"o":1.2624,"h":1.2626,"l":1.2602,"c":1.2610},
{"i":565,"o":1.2610,"h":1.2615,"l":1.2592,"c":1.2594},
{"i":566,"o":1.2594,"h":1.2628,"l":1.2589,"c":1.2620},
{"i":567,"o":1.2620,"h":1.2636,"l":1.2617,"c":1.2633},
{"i":568,"o":1.2633,"h":1.2639,"l":1.2615,"c":1.2622},
{"i":569,"o":1.2622,"h":1.2631,"l":1.2620,"c":1.2627},
{"i":570,"o":1.2627,"h":1.2653,"l":1.2621,"c":1.2649},
{"i":571,"o":1.2649,"h":1.2662,"l":1.2646,"c":1.2655},
{"i":572,"o":1.2655,"h":1.2663,"l":1.2650,"c":1.2660},
{"i":573,"o":1.2660,"h":1.2672,"l":1.2656,"c":1.2666},
{"i":574,"o":1.2666,"h":1.2682,"l":1.2658,"c":1.2680},
{"i":575,"o":1.2680,"h":1.2701,"l":1.2678,"c":1.2696},
{"i":576,"o":1.2696,"h":1.2704,"l":1.2685,"c":1.2690},
{"i":577,"o":1.2690,"h":1.2710,"l":1.2687,"c":1.2700},
{"i":578,"o":1.2700,"h":1.2706,"l":1.2683,"c":1.2690},
{"i":579,"o":1.2690,"h":1.2694,"l":1.2675,"c":1.2677},
{"i":580,"o":1.2677,"h":1.2689,"l":1.2671,"c":1.2685},
{"i":581,"o":1.2685,"h":1.2708,"l":1.2682,"c":1.2696},
{"i":582,"o":1.2696,"h":1.2699,"l":1.2606,"c":1.2611},
{"i":583,"o":1.2611,"h":1.2617,"l":1.2556,"c":1.2560},
{"i":584,"o":1.2560,"h":1.2562,"l":1.2528,"c":1.2536},
{"i":585,"o":1.2536,"h":1.2555,"l":1.2534,"c":1.2550},
{"i":586,"o":1.2550,"h":1.2558,"l":1.2531,"c":1.2536},
{"i":587,"o":1.2536,"h":1.2561,"l":1.2533,"c":1.2558},
{"i":588,"o":1.2558,"h":1.2579,"l":1.2551,"c":1.2569},
{"i":589,"o":1.2569,"h":1.2573,"l":1.2548,"c":1.2550},
{"i":590,"o":1.2550,"h":1.2554,"l":1.2530,"c":1.2536},
{"i":591,"o":1.2536,"h":1.2562,"l":1.2533,"c":1.2555},
{"i":592,"o":1.2555,"h":1.2558,"l":1.2535,"c":1.2540},
{"i":593,"o":1.2540,"h":1.2546,"l":1.2505,"c":1.2509},
{"i":594,"o":1.2509,"h":1.2511,"l":1.2446,"c":1.2454},
{"i":595,"o":1.2454,"h":1.2470,"l":1.2427,"c":1.2465},
{"i":596,"o":1.2465,"h":1.2478,"l":1.2460,"c":1.2470},
{"i":597,"o":1.2470,"h":1.2473,"l":1.2426,"c":1.2454},
{"i":598,"o":1.2454,"h":1.2476,"l":1.2447,"c":1.2470},
{"i":599,"o":1.2470,"h":1.2485,"l":1.2468,"c":1.2481},
{"i":600,"o":1.2481,"h":1.2485,"l":1.2464,"c":1.2470},
{"i":601,"o":1.2470,"h":1.2477,"l":1.2464,"c":1.2467},
{"i":602,"o":1.2467,"h":1.2470,"l":1.2449,"c":1.2454},
{"i":603,"o":1.2454,"h":1.2460,"l":1.2441,"c":1.2445},
{"i":604,"o":1.2445,"h":1.2447,"l":1.2426,"c":1.2434},
{"i":605,"o":1.2434,"h":1.2455,"l":1.2408,"c":1.2450},
{"i":606,"o":1.2450,"h":1.2472,"l":1.2445,"c":1.2464},
{"i":607,"o":1.2464,"h":1.2467,"l":1.2447,"c":1.2450},
{"i":608,"o":1.2450,"h":1.2456,"l":1.2405,"c":1.2429},
{"i":609,"o":1.2429,"h":1.2449,"l":1.2427,"c":1.2445},
{"i":610,"o":1.2445,"h":1.2469,"l":1.2439,"c":1.2465},
{"i":611,"o":1.2465,"h":1.2481,"l":1.2462,"c":1.2473},
{"i":612,"o":1.2473,"h":1.2476,"l":1.2455,"c":1.2460},
{"i":613,"o":1.2460,"h":1.2466,"l":1.2444,"c":1.2448},
{"i":614,"o":1.2448,"h":1.2456,"l":1.2440,"c":1.2454},
{"i":615,"o":1.2454,"h":1.2467,"l":1.2452,"c":1.2462},
{"i":616,"o":1.2462,"h":1.2478,"l":1.2457,"c":1.2470},
{"i":617,"o":1.2470,"h":1.2473,"l":1.2457,"c":1.2460},
{"i":618,"o":1.2460,"h":1.2484,"l":1.2453,"c":1.2473},
{"i":619,"o":1.2473,"h":1.2477,"l":1.2453,"c":1.2455},
{"i":620,"o":1.2455,"h":1.2459,"l":1.2428,"c":1.2434},
{"i":621,"o":1.2434,"h":1.2447,"l":1.2431,"c":1.2440},
{"i":622,"o":1.2440,"h":1.2443,"l":1.2395,"c":1.2420},
{"i":623,"o":1.2420,"h":1.2457,"l":1.2416,"c":1.2451},
{"i":624,"o":1.2451,"h":1.2453,"l":1.2427,"c":1.2435},
{"i":625,"o":1.2435,"h":1.2440,"l":1.2388,"c":1.2390},
{"i":626,"o":1.2390,"h":1.2398,"l":1.2375,"c":1.2380},
{"i":627,"o":1.2380,"h":1.2383,"l":1.2368,"c":1.2371},
{"i":628,"o":1.2371,"h":1.2391,"l":1.2364,"c":1.2385},
{"i":629,"o":1.2385,"h":1.2389,"l":1.2366,"c":1.2368},
{"i":630,"o":1.2368,"h":1.2372,"l":1.2310,"c":1.2316},
{"i":631,"o":1.2316,"h":1.2320,"l":1.2301,"c":1.2310},
{"i":632,"o":1.2310,"h":1.2355,"l":1.2305,"c":1.2352},
{"i":633,"o":1.2352,"h":1.2358,"l":1.2343,"c":1.2347},
{"i":634,"o":1.2347,"h":1.2373,"l":1.2339,"c":1.2371},
{"i":635,"o":1.2371,"h":1.2376,"l":1.2332,"c":1.2349},
{"i":636,"o":1.2349,"h":1.2398,"l":1.2344,"c":1.2390},
{"i":637,"o":1.2390,"h":1.2457,"l":1.2387,"c":1.2454},
{"i":638,"o":1.2454,"h":1.2460,"l":1.2438,"c":1.2445},
{"i":639,"o":1.2445,"h":1.2449,"l":1.2438,"c":1.2440},
{"i":640,"o":1.2440,"h":1.2458,"l":1.2434,"c":1.2454},
{"i":641,"o":1.2454,"h":1.2461,"l":1.2445,"c":1.2448},
{"i":642,"o":1.2448,"h":1.2451,"l":1.2421,"c":1.2426},
{"i":643,"o":1.2426,"h":1.2449,"l":1.2422,"c":1.2443},
{"i":644,"o":1.2443,"h":1.2457,"l":1.2435,"c":1.2455},
{"i":645,"o":1.2455,"h":1.2472,"l":1.2453,"c":1.2467},
{"i":646,"o":1.2467,"h":1.2475,"l":1.2460,"c":1.2465},
{"i":647,"o":1.2465,"h":1.2523,"l":1.2462,"c":1.2520},
{"i":648,"o":1.2520,"h":1.2526,"l":1.2474,"c":1.2481},
{"i":649,"o":1.2481,"h":1.2518,"l":1.2479,"c":1.2514},
{"i":650,"o":1.2514,"h":1.2518,"l":1.2494,"c":1.2500},
{"i":651,"o":1.2500,"h":1.2516,"l":1.2497,"c":1.2509},
{"i":652,"o":1.2509,"h":1.2512,"l":1.2493,"c":1.2498},
{"i":653,"o":1.2498,"h":1.2531,"l":1.2494,"c":1.2525},
{"i":654,"o":1.2525,"h":1.2527,"l":1.2509,"c":1.2517},
{"i":655,"o":1.2517,"h":1.2522,"l":1.2449,"c":1.2487},
{"i":656,"o":1.2487,"h":1.2508,"l":1.2482,"c":1.2500},
{"i":657,"o":1.2500,"h":1.2528,"l":1.2497,"c":1.2525},
{"i":658,"o":1.2525,"h":1.2541,"l":1.2518,"c":1.2535},
{"i":659,"o":1.2535,"h":1.2546,"l":1.2533,"c":1.2542},
{"i":660,"o":1.2542,"h":1.2559,"l":1.2536,"c":1.2555},
{"i":661,"o":1.2555,"h":1.2569,"l":1.2552,"c":1.2564},
{"i":662,"o":1.2564,"h":1.2567,"l":1.2545,"c":1.2550},
{"i":663,"o":1.2550,"h":1.2559,"l":1.2546,"c":1.2553},
{"i":664,"o":1.2553,"h":1.2555,"l":1.2532,"c":1.2540},
{"i":665,"o":1.2540,"h":1.2545,"l":1.2536,"c":1.2538},
{"i":666,"o":1.2538,"h":1.2546,"l":1.2523,"c":1.2528},
{"i":667,"o":1.2528,"h":1.2531,"l":1.2511,"c":1.2514},
{"i":668,"o":1.2514,"h":1.2520,"l":1.2493,"c":1.2500},
{"i":669,"o":1.2500,"h":1.2504,"l":1.2490,"c":1.2492},
{"i":670,"o":1.2492,"h":1.2502,"l":1.2486,"c":1.2498},
{"i":671,"o":1.2498,"h":1.2505,"l":1.2467,"c":1.2481},
{"i":672,"o":1.2481,"h":1.2495,"l":1.2476,"c":1.2492},
{"i":673,"o":1.2492,"h":1.2498,"l":1.2481,"c":1.2485},
{"i":674,"o":1.2485,"h":1.2497,"l":1.2477,"c":1.2495},
{"i":675,"o":1.2495,"h":1.2550,"l":1.2493,"c":1.2531},
{"i":676,"o":1.2531,"h":1.2544,"l":1.2526,"c":1.2536},
{"i":677,"o":1.2536,"h":1.2539,"l":1.2528,"c":1.2531},
{"i":678,"o":1.2531,"h":1.2537,"l":1.2471,"c":1.2520},
{"i":679,"o":1.2520,"h":1.2534,"l":1.2518,"c":1.2530},
{"i":680,"o":1.2530,"h":1.2548,"l":1.2524,"c":1.2544},
{"i":681,"o":1.2544,"h":1.2551,"l":1.2537,"c":1.2540},
{"i":682,"o":1.2540,"h":1.2553,"l":1.2535,"c":1.2550},
{"i":683,"o":1.2550,"h":1.2564,"l":1.2546,"c":1.2558},
{"i":684,"o":1.2558,"h":1.2634,"l":1.2555,"c":1.2605},
{"i":685,"o":1.2605,"h":1.2610,"l":1.2542,"c":1.2544},
{"i":686,"o":1.2544,"h":1.2557,"l":1.2539,"c":1.2549},
{"i":687,"o":1.2549,"h":1.2552,"l":1.2541,"c":1.2544},
{"i":688,"o":1.2544,"h":1.2553,"l":1.2540,"c":1.2547},
{"i":689,"o":1.2547,"h":1.2584,"l":1.2545,"c":1.2580},
{"i":690,"o":1.2580,"h":1.2594,"l":1.2575,"c":1.2591},
{"i":691,"o":1.2591,"h":1.2598,"l":1.2572,"c":1.2575},
{"i":692,"o":1.2575,"h":1.2578,"l":1.2559,"c":1.2564},
{"i":693,"o":1.2564,"h":1.2570,"l":1.2554,"c":1.2558},
{"i":694,"o":1.2558,"h":1.2566,"l":1.2550,"c":1.2564},
{"i":695,"o":1.2564,"h":1.2569,"l":1.2551,"c":1.2553},
{"i":696,"o":1.2553,"h":1.2561,"l":1.2537,"c":1.2542},
{"i":697,"o":1.2542,"h":1.2545,"l":1.2506,"c":1.2509},
{"i":698,"o":1.2509,"h":1.2515,"l":1.2493,"c":1.2500},
{"i":699,"o":1.2500,"h":1.2504,"l":1.2493,"c":1.2495},
{"i":700,"o":1.2495,"h":1.2499,"l":1.2481,"c":1.2487},
{"i":701,"o":1.2487,"h":1.2494,"l":1.2477,"c":1.2480},
{"i":702,"o":1.2480,"h":1.2483,"l":1.2467,"c":1.2476},
{"i":703,"o":1.2476,"h":1.2495,"l":1.2472,"c":1.2489},
{"i":704,"o":1.2489,"h":1.2500,"l":1.2481,"c":1.2498},
{"i":705,"o":1.2498,"h":1.2503,"l":1.2488,"c":1.2490},
{"i":706,"o":1.2490,"h":1.2498,"l":1.2484,"c":1.2489},
{"i":707,"o":1.2489,"h":1.2492,"l":1.2470,"c":1.2473},
{"i":708,"o":1.2473,"h":1.2501,"l":1.2452,"c":1.2495},
{"i":709,"o":1.2495,"h":1.2515,"l":1.2493,"c":1.2511},
{"i":710,"o":1.2511,"h":1.2526,"l":1.2505,"c":1.2522},
{"i":711,"o":1.2522,"h":1.2529,"l":1.2515,"c":1.2518},
{"i":712,"o":1.2518,"h":1.2528,"l":1.2513,"c":1.2525},
{"i":713,"o":1.2525,"h":1.2531,"l":1.2510,"c":1.2514},
{"i":714,"o":1.2514,"h":1.2522,"l":1.2506,"c":1.2520},
{"i":715,"o":1.2520,"h":1.2544,"l":1.2518,"c":1.2539},
{"i":716,"o":1.2539,"h":1.2547,"l":1.2526,"c":1.2531},
{"i":717,"o":1.2531,"h":1.2534,"l":1.2517,"c":1.2520},
{"i":718,"o":1.2520,"h":1.2531,"l":1.2513,"c":1.2525},
{"i":719,"o":1.2525,"h":1.2544,"l":1.2523,"c":1.2540},
{"i":720,"o":1.2540,"h":1.2568,"l":1.2534,"c":1.2564},
{"i":721,"o":1.2564,"h":1.2571,"l":1.2547,"c":1.2550},
{"i":722,"o":1.2550,"h":1.2558,"l":1.2545,"c":1.2555},
{"i":723,"o":1.2555,"h":1.2566,"l":1.2551,"c":1.2560},
{"i":724,"o":1.2560,"h":1.2562,"l":1.2545,"c":1.2553},
{"i":725,"o":1.2553,"h":1.2558,"l":1.2511,"c":1.2522},
{"i":726,"o":1.2522,"h":1.2548,"l":1.2517,"c":1.2540},
{"i":727,"o":1.2540,"h":1.2575,"l":1.2537,"c":1.2572},
{"i":728,"o":1.2572,"h":1.2586,"l":1.2565,"c":1.2580},
{"i":729,"o":1.2580,"h":1.2595,"l":1.2578,"c":1.2591},
{"i":730,"o":1.2591,"h":1.2617,"l":1.2585,"c":1.2613},
{"i":731,"o":1.2613,"h":1.2651,"l":1.2610,"c":1.2644},
{"i":732,"o":1.2644,"h":1.2663,"l":1.2639,"c":1.2660},
{"i":733,"o":1.2660,"h":1.2680,"l":1.2656,"c":1.2674},
{"i":734,"o":1.2674,"h":1.2682,"l":1.2666,"c":1.2680},
{"i":735,"o":1.2680,"h":1.2701,"l":1.2678,"c":1.2700},
{"i":736,"o":1.2700,"h":1.2703,"l":1.2686,"c":1.2691},
{"i":737,"o":1.2691,"h":1.2694,"l":1.2671,"c":1.2674},
{"i":738,"o":1.2674,"h":1.2680,"l":1.2648,"c":1.2655},
{"i":739,"o":1.2655,"h":1.2675,"l":1.2653,"c":1.2671},
{"i":740,"o":1.2671,"h":1.2675,"l":1.2660,"c":1.2666},
{"i":741,"o":1.2666,"h":1.2673,"l":1.2654,"c":1.2657},
{"i":742,"o":1.2657,"h":1.2665,"l":1.2652,"c":1.2662},
{"i":743,"o":1.2662,"h":1.2668,"l":1.2645,"c":1.2649},
{"i":744,"o":1.2649,"h":1.2662,"l":1.2646,"c":1.2660},
{"i":745,"o":1.2660,"h":1.2708,"l":1.2658,"c":1.2701},
{"i":746,"o":1.27005,"h":1.27115,"l":1.26989,"c":1.27000}
]
},
"layer":[
{
"data":{"name":"bars"},
"mark":{"type":"rule","color":"#000000","strokeWidth":1,"clip":true},
"encoding":{
"x":{"field":"i","type":"quantitative","scale":{"domain":[-0.15,935.1],"nice":false,"zero":false},
"axis":{"orient":"bottom","title":null,
"values":[0,16,32,48,64,80,96,112,128,144,160,176,192,208,224,240,256,272,288,304,320,336,352,368,384,400,416,432,448,464,480,496,512,528,544,560,576,592,608,624,640,656,672,688,704,720,736,752,768,784,800,816,832,848,864,880,896,912,928],
"grid":true,"gridColor":"#C8C8C8","gridDash":[4,3],"gridWidth":1,
"domain":true,"domainColor":"#000000","domainWidth":1.5,
"ticks":true,"tickColor":"#000000","tickSize":5,"tickWidth":1,
"tickOpacity":{"condition":{"test":"datum.value % 32 === 0 && datum.value <= 736","value":1},"value":0},
"labelExpr":"datum.value % 32 === 0 && datum.value <= 736 ? ['23 Nov 2023','30 Nov 20:00','8 Dec 04:00','15 Dec 12:00','22 Dec 20:00','3 Jan 04:00','10 Jan 12:00','17 Jan 20:00','25 Jan 04:00','1 Feb 12:00','8 Feb 20:00','16 Feb 04:00','23 Feb 12:00','1 Mar 20:00','11 Mar 04:00','18 Mar 12:00','25 Mar 20:00','2 Apr 04:00','9 Apr 12:00','16 Apr 20:00','24 Apr 04:00','1 May 12:00','8 May 20:00','16 May 04:00'][datum.value / 32] : ''",
"labelAlign":"left","labelBaseline":"top","labelPadding":3,"labelOffset":1,
"labelFont":"Liberation Sans Narrow, DejaVu Sans Condensed, Liberation Sans","labelFontSize":18.5,"labelColor":"#000000",
"labelOverlap":false,"labelFlush":false,"labelBound":false}},
"y":{"field":"l","type":"quantitative","scale":{"domain":[1.22843,1.29237],"nice":false,"zero":false},
"axis":{"orient":"right","title":null,
"values":[1.29125,1.2891,1.287,1.28485,1.28275,1.2806,1.2785,1.27635,1.2742,1.2721,1.26995,1.26785,1.2657,1.2636,1.26145,1.25935,1.2572,1.2551,1.25295,1.2508,1.2487,1.2466,1.24445,1.24235,1.2402,1.23805,1.23595,1.2338,1.2317,1.22955],
"format":".5f",
"labelExpr":"datum.value === 1.26995 || datum.value === 1.2572 || datum.value === 1.2508 ? '' : datum.label",
"labelBaseline":{"condition":[{"test":"datum.value === 1.2636","value":"bottom"},{"test":"datum.value === 1.2721","value":"top"}],"value":"middle"},
"grid":true,"gridColor":"#C8C8C8","gridDash":[4,3],"gridWidth":1,
"domain":true,"domainColor":"#000000","domainWidth":1.5,
"ticks":true,"tickColor":"#000000","tickSize":4,
"labelPadding":8,"labelFont":"Liberation Sans","labelFontSize":18,"labelColor":"#000000",
"labelOverlap":false,"labelFlush":false,"labelBound":false}},
"y2":{"field":"h"}
}
},
{
"data":{"name":"levels"},
"transform":[{"filter":"datum.label !== ''"}],
"mark":{"type":"text","align":"center","baseline":"middle","dy":11,"font":"Liberation Sans","fontSize":21,"clip":false},
"encoding":{
"x":{"datum":720.35,"type":"quantitative","scale":{"domain":[-0.15,935.1],"nice":false,"zero":false}},
"y":{"field":"v","type":"quantitative","scale":{"domain":[1.22843,1.29237],"nice":false,"zero":false}},
"text":{"field":"label"},
"color":{"field":"kind","type":"nominal","scale":{"domain":["pm2","pm1","bid","blue","o71","o62","g53"],"range":["#C71585","#FF00FF","#000000","#1E90FF","#FF8C00","#FF4500","#556B2F"]},"legend":null}
}
},
{
"data":{"name":"bars"},
"mark":{"type":"rule","color":"#000000","strokeWidth":1,"clip":true},
"encoding":{
"x":{"field":"i","type":"quantitative","scale":{"domain":[-0.15,935.1],"nice":false,"zero":false}},
"y":{"field":"l","type":"quantitative","scale":{"domain":[1.22843,1.29237],"nice":false,"zero":false}},
"y2":{"field":"h"}
}
},
{
"data":{"name":"bars"},
"mark":{"type":"bar","width":2,"stroke":"#000000","strokeWidth":1,"clip":true},
"encoding":{
"x":{"field":"i","type":"quantitative","scale":{"domain":[-0.15,935.1],"nice":false,"zero":false}},
"y":{"field":"o","type":"quantitative","scale":{"domain":[1.22843,1.29237],"nice":false,"zero":false}},
"y2":{"field":"c"},
"color":{"condition":{"test":"datum.c < datum.o","value":"#000000"},"value":"#FFFFFF"}
}
},
{
"data":{"name":"levels"},
"transform":[{"filter":"datum.kind !== 'bid'"}],
"mark":{"type":"rule","clip":true},
"encoding":{
"y":{"field":"v","type":"quantitative","scale":{"domain":[1.22843,1.29237],"nice":false,"zero":false}},
"color":{"field":"kind","type":"nominal","scale":{"domain":["pm2","pm1","bid","blue","o71","o62","g53"],"range":["#C71585","#FF00FF","#000000","#1E90FF","#FF8C00","#FF4500","#556B2F"]},"legend":null},
"strokeDash":{"condition":{"test":"datum.kind === 'blue'","value":[1,0]},"value":[18,6]},
"strokeWidth":{"condition":{"test":"datum.v === 1.26953","value":2},"value":1}
}
},
{
"data":{"name":"levels"},
"transform":[{"filter":"datum.kind === 'bid'"}],
"mark":{"type":"rule","color":"#B4B4B4","strokeWidth":1.5,"clip":true},
"encoding":{
"y":{"field":"v","type":"quantitative","scale":{"domain":[1.22843,1.29237],"nice":false,"zero":false}}
}
},
{
"data":{"name":"levels"},
"transform":[{"filter":"datum.kind === 'bid'"}],
"mark":{"type":"tick","orient":"horizontal","size":80,"thickness":23,"opacity":1,"yOffset":-1,"clip":false},
"encoding":{
"x":{"datum":946.0,"type":"quantitative","scale":{"domain":[-0.15,935.1],"nice":false,"zero":false}},
"y":{"field":"v","type":"quantitative","scale":{"domain":[1.22843,1.29237],"nice":false,"zero":false}},
"color":{"field":"kind","type":"nominal","scale":{"domain":["pm2","pm1","bid","blue","o71","o62","g53"],"range":["#C71585","#FF00FF","#000000","#1E90FF","#FF8C00","#FF4500","#556B2F"]},"legend":null}
}
},
{
"data":{"name":"levels"},
"transform":[{"filter":"datum.kind === 'bid'"}],
"mark":{"type":"text","align":"left","baseline":"middle","dy":-1,"font":"Liberation Sans","fontSize":17.5,"color":"#FFFFFF","clip":false},
"encoding":{
"x":{"datum":937.0,"type":"quantitative","scale":{"domain":[-0.15,935.1],"nice":false,"zero":false}},
"y":{"field":"v","type":"quantitative","scale":{"domain":[1.22843,1.29237],"nice":false,"zero":false}},
"text":{"field":"v","type":"quantitative","format":".5f"}
}
},
{
"data":{"name":"levels"},
"transform":[{"filter":"datum.kind !== 'bid'"}],
"mark":{"type":"tick","orient":"horizontal","size":80,"thickness":23,"opacity":1,"yOffset":5,"clip":false},
"encoding":{
"x":{"datum":946.0,"type":"quantitative","scale":{"domain":[-0.15,935.1],"nice":false,"zero":false}},
"y":{"field":"v","type":"quantitative","scale":{"domain":[1.22843,1.29237],"nice":false,"zero":false}},
"color":{"field":"kind","type":"nominal","scale":{"domain":["pm2","pm1","bid","blue","o71","o62","g53"],"range":["#C71585","#FF00FF","#000000","#1E90FF","#FF8C00","#FF4500","#556B2F"]},"legend":null}
}
},
{
"data":{"name":"levels"},
"transform":[{"filter":"datum.kind !== 'bid'"}],
"mark":{"type":"text","align":"left","baseline":"middle","dy":5,"font":"Liberation Sans","fontSize":17.5,"color":"#FFFFFF","clip":false},
"encoding":{
"x":{"datum":937.0,"type":"quantitative","scale":{"domain":[-0.15,935.1],"nice":false,"zero":false}},
"y":{"field":"v","type":"quantitative","scale":{"domain":[1.22843,1.29237],"nice":false,"zero":false}},
"text":{"field":"v","type":"quantitative","format":".5f"}
}
},
{
"data":{"name":"caption"},
"mark":{"type":"text","align":"left","baseline":"middle","font":"Liberation Sans","fontSize":18,"color":"#000000","clip":false},
"encoding":{
"x":{"datum":1.1,"type":"quantitative","scale":{"domain":[-0.15,935.1],"nice":false,"zero":false}},
"y":{"datum":1.29198,"type":"quantitative","scale":{"domain":[1.22843,1.29237],"nice":false,"zero":false}},
"text":{"field":"caption"}
}
},
{
"data":{"values":[{"marker":"shift"}]},
"mark":{"type":"point","shape":"triangle-down","filled":true,"color":"#A0A0A0","size":80,"opacity":1,"clip":false},
"encoding":{
"x":{"datum":747.6,"type":"quantitative","scale":{"domain":[-0.15,935.1],"nice":false,"zero":false}},
"y":{"datum":1.29221,"type":"quantitative","scale":{"domain":[1.22843,1.29237],"nice":false,"zero":false}}
}
}
]
}
